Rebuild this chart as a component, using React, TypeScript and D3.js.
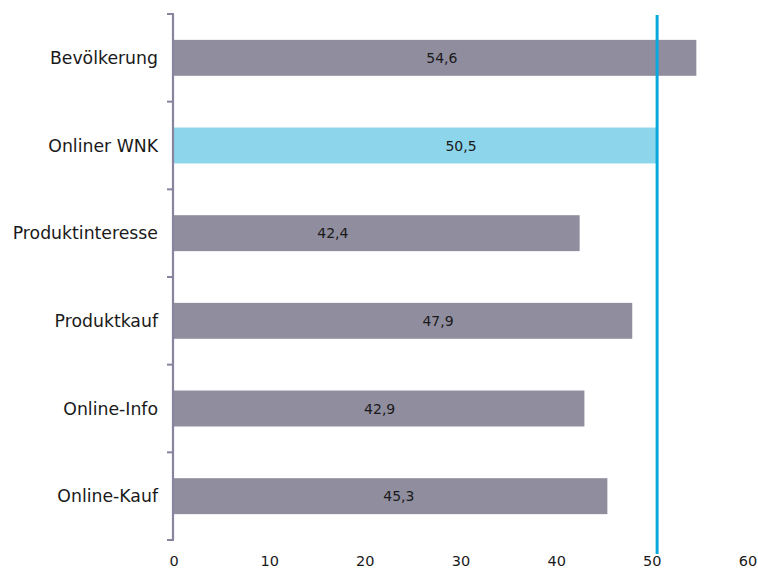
import React from "react";
import * as d3 from "d3";

// Categories from top to bottom
const categories = [
  "Bevölkerung",
  "Onliner WNK",
  "Produktinteresse",
  "Produktkauf",
  "Online-Info",
  "Online-Kauf",
];

// Bar values
const values = [54.6, 50.5, 42.4, 47.9, 42.9, 45.3];

// Where each value label sits along the value axis
const labelAt = [28, 30, 16.6, 27.6, 21.5, 23.5];

// Highlighted category and the reference line value
const highlight = "Onliner WNK";
const referenceValue = 50.5;

// X axis ticks
const xTicks = [0, 10, 20, 30, 40, 50, 60];

const W = 758;
const H = 569;
const FONT = "'DejaVu Sans', Verdana, sans-serif";

export default function App() {
  const x = d3.scaleLinear().domain([0, 60]).range([174, 748]);
  const y = d3
    .scaleBand<string>()
    .domain(categories)
    .range([14, 540])
    .paddingInner(0.59)
    .paddingOuter(0.295);
  const band = d3.scaleBand<string>().domain(categories).range([14, 540]);
  const boundaries = [...categories.map((c) => band(c) as number), 540];

  const fmt = (v: number) => d3.format(".1f")(v).replace(".", ",");

  return (
    <svg
      width={W}
      height={H}
      style={{ position: "absolute", left: 0, top: 0, background: "#fff" }}
    >
      {/* bars */}
      {categories.map((c, i) => (
        <rect
          key={c}
          x={x(0)}
          y={y(c)}
          width={x(values[i]) - x(0)}
          height={y.bandwidth()}
          fill={c === highlight ? "#8dd5ea" : "#8f8d9e"}
        />
      ))}

      {/* value labels */}
      {categories.map((c, i) => (
        <text
          key={c}
          x={x(labelAt[i])}
          y={(y(c) as number) + y.bandwidth() / 2}
          textAnchor="middle"
          dominantBaseline="central"
          fontFamily={FONT}
          fontSize={14}
          fill="#1a1a1a"
        >
          {fmt(values[i])}
        </text>
      ))}

      {/* category axis */}
      <line x1={173} x2={173} y1={14} y2={540} stroke="#8884a0" strokeWidth={2.2} />
      {boundaries.map((b, i) => (
        <line key={i} x1={167} x2={174} y1={b} y2={b} stroke="#8884a0" strokeWidth={2} />
      ))}
      {categories.map((c) => (
        <text
          key={c}
          x={158}
          y={(band(c) as number) + band.bandwidth() / 2}
          textAnchor="end"
          dominantBaseline="central"
          fontFamily={FONT}
          fontSize={17.3}
          fill="#1a1a1a"
        >
          {c}
        </text>
      ))}

      {/* reference line */}
      <line
        x1={x(referenceValue)}
        x2={x(referenceValue)}
        y1={15}
        y2={554}
        stroke="#0aa8dc"
        strokeWidth={3}
      />

      {/* value axis tick labels */}
      {xTicks.map((t) => (
        <text
          key={t}
          x={x(t)}
          y={566}
          textAnchor="middle"
          fontFamily={FONT}
          fontSize={14.5}
          fill="#1a1a1a"
        >
          {t}
        </text>
      ))}
    </svg>
  );
}
